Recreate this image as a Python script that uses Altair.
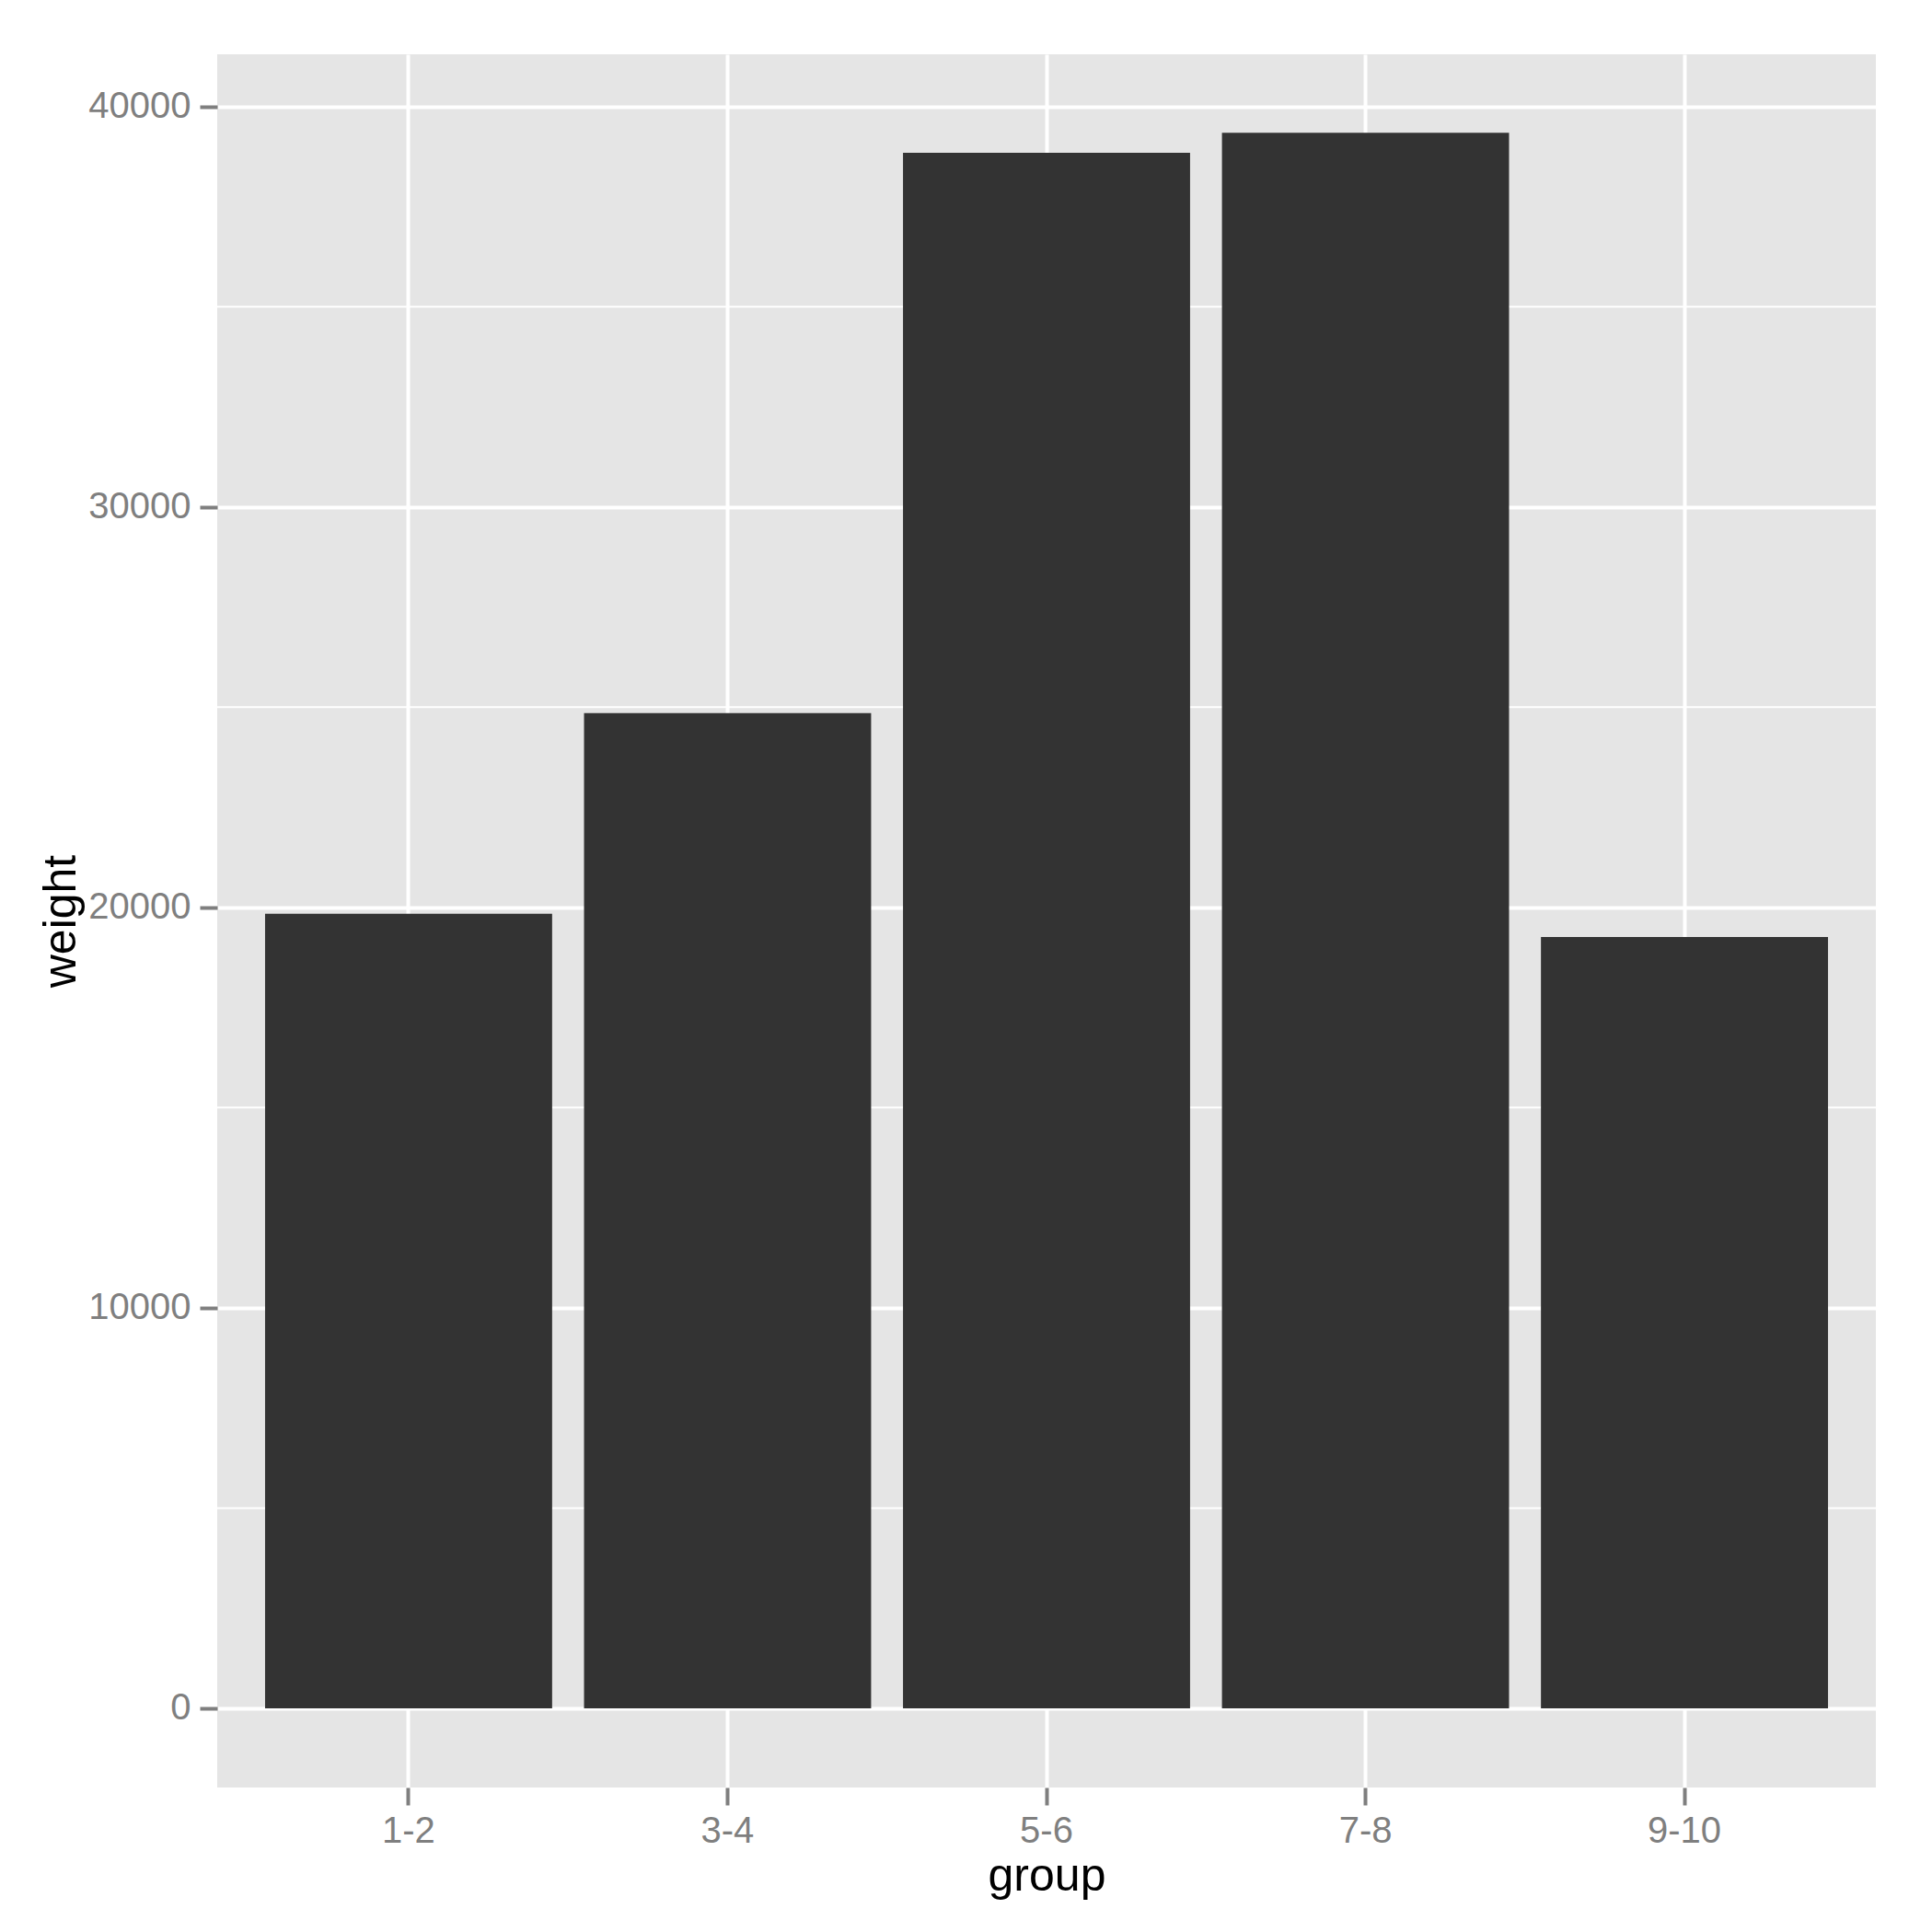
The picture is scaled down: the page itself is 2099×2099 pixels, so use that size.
import altair as alt
import pandas as pd

groups = ["1-2", "3-4", "5-6", "7-8", "9-10"]
weights = [19840, 24850, 38840, 39345, 19260]
major_ticks = [0, 10000, 20000, 30000, 40000]
minor_ticks = [5000, 15000, 25000, 35000]

bars_df = pd.DataFrame({"group": groups, "weight": weights})
minor_df = pd.DataFrame({"weight": minor_ticks})

FONT = "Liberation Sans"
GREY = "#7F7F7F"

y_scale = alt.Scale(domain=[-1977, 41302], nice=False, zero=False)
y_axis = alt.Axis(
    values=major_ticks, format="d", grid=True, gridColor="white", gridWidth=4,
    domain=False, tickColor=GREY, tickSize=19, tickWidth=4,
    labelColor=GREY, labelFont=FONT, labelFontSize=40, labelPadding=10,
    titleFont=FONT, titleFontSize=50, titleColor="black", titleFontWeight="normal",
    titlePadding=4, zindex=0,
)
x_axis = alt.Axis(
    grid=True, gridColor="white", gridWidth=4, bandPosition=0.5,
    domain=False, tickColor=GREY, tickSize=19, tickWidth=4, tickBand="center",
    labelColor=GREY, labelFont=FONT, labelFontSize=40, labelPadding=8, labelAngle=0,
    titleFont=FONT, titleFontSize=50, titleColor="black", titleFontWeight="normal",
    titlePadding=4, zindex=0,
)

minor = alt.Chart(minor_df).mark_rule(color="white", strokeWidth=2).encode(
    y=alt.Y("weight:Q", scale=y_scale, axis=y_axis, title="weight"),
)

bars = alt.Chart(bars_df).mark_bar(color="#333333").encode(
    x=alt.X("group:N", sort=groups, title="group",
            scale=alt.Scale(paddingInner=0.1, paddingOuter=0.15), axis=x_axis),
    y=alt.Y("weight:Q", scale=y_scale, axis=y_axis, title="weight"),
    y2=alt.datum(0),
)

chart = alt.layer(minor, bars).properties(
    width=1802, height=1883,
    autosize=alt.AutoSizeParams(type="none"),
    padding={"left": 228, "top": 51, "right": 50, "bottom": 140},
).configure_view(fill="#E5E5E5", stroke=None)

chart.save("out.html", embed_options={"renderer": "svg", "actions": False})
